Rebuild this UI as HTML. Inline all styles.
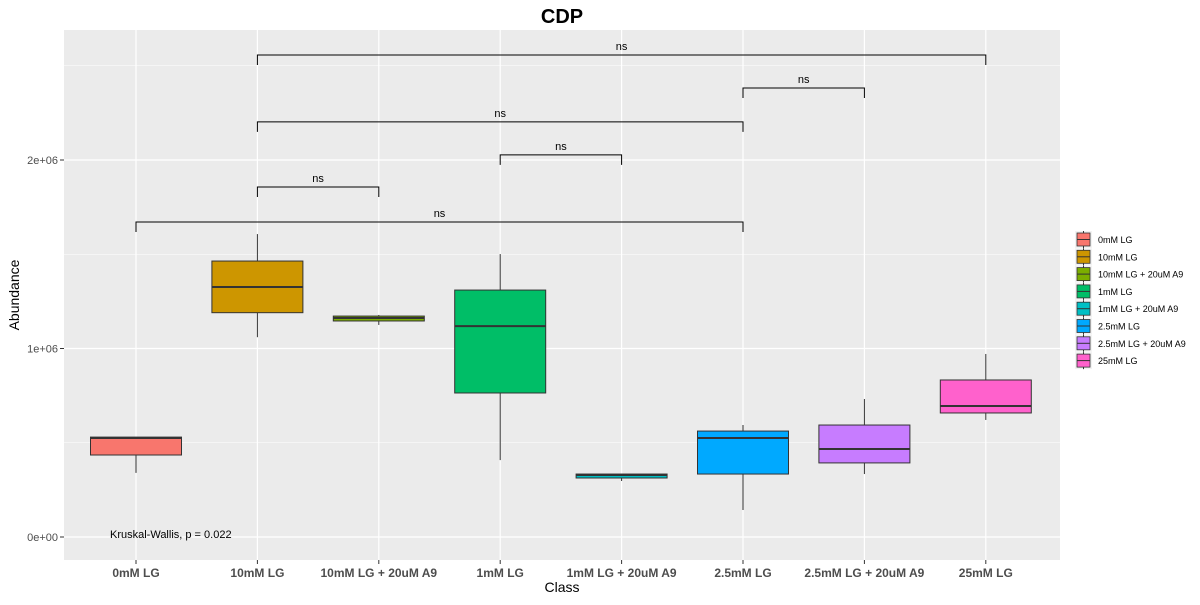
<!DOCTYPE html>
<html><head><meta charset="utf-8"><style>
body{margin:0;background:#fff;font-family:"Liberation Sans",Arial,sans-serif}
svg text{font-family:"Liberation Sans",Arial,sans-serif}
</style></head><body>
<svg id="chart" width="1200" height="600"></svg>
<script>
const categories=["0mM LG","10mM LG","10mM LG + 20uM A9","1mM LG","1mM LG + 20uM A9","2.5mM LG","2.5mM LG + 20uM A9","25mM LG"];
const colors=["#F8766D","#CD9600","#7CAE00","#00BE67","#00BFC4","#00A9FF","#C77CFF","#FF61CC"];
const lowW=[0.34e6,1.06e6,1.125e6,0.408e6,0.297e6,0.143e6,0.334e6,0.621e6];
const q1=[0.435e6,1.19e6,1.146e6,0.764e6,0.313e6,0.334e6,0.393e6,0.658e6];
const med=[0.525e6,1.326e6,1.162e6,1.119e6,0.329e6,0.525e6,0.467e6,0.695e6];
const q3=[0.53e6,1.464e6,1.172e6,1.31e6,0.334e6,0.562e6,0.594e6,0.833e6];
const highW=[0.53e6,1.607e6,1.178e6,1.501e6,0.334e6,0.594e6,0.732e6,0.971e6];
const yTicks=[0,1e6,2e6];
const yTickLabels=["0e+00","1e+06","2e+06"];
const yMinor=[0.5e6,1.5e6,2.5e6];
const brackets=[[0,5,1.671e6],[1,2,1.857e6],[3,4,2.027e6],[1,5,2.202e6],[5,6,2.382e6],[1,7,2.557e6]];
const bracketLabels=["ns","ns","ns","ns","ns","ns"];

const NS="http://www.w3.org/2000/svg";
const svg=document.getElementById('chart');
const L=64,R=1060,T=30,B=560;
const yv=v=>537-v/1e6*188.5;
const xc=i=>136+i*121.4;
function el(tag,attrs,parent){const e=document.createElementNS(NS,tag);for(const k in attrs)e.setAttribute(k,attrs[k]);(parent||svg).appendChild(e);return e;}
function txt(s,attrs){const e=el('text',attrs);e.textContent=s;return e;}

const panel=el('rect',{x:L,y:T,width:R-L,height:B-T,fill:'#EBEBEB'});


yMinor.forEach(v=>{el('line',{x1:L,x2:R,y1:yv(v),y2:yv(v),stroke:'#fff','stroke-width':0.6});});
yTicks.forEach(v=>{el('line',{x1:L,x2:R,y1:yv(v),y2:yv(v),stroke:'#fff','stroke-width':1.2});});
categories.forEach((c,i)=>{el('line',{x1:xc(i),x2:xc(i),y1:T,y2:B,stroke:'#fff','stroke-width':1.2});});

const bw=91;
categories.forEach((c,i)=>{
  const g=el('g',{});
  
  
  const x=xc(i);
  el('line',{x1:x,x2:x,y1:yv(highW[i]),y2:yv(q3[i]),stroke:'#333','stroke-width':1},g);
  el('line',{x1:x,x2:x,y1:yv(q1[i]),y2:yv(lowW[i]),stroke:'#333','stroke-width':1},g);
  el('rect',{x:x-bw/2,y:yv(q3[i]),width:bw,height:Math.max(1,yv(q1[i])-yv(q3[i])),fill:colors[i],stroke:'#333','stroke-width':1},g);
  el('line',{x1:x-bw/2,x2:x+bw/2,y1:yv(med[i]),y2:yv(med[i]),stroke:'#333','stroke-width':2},g);
});

brackets.forEach((b,k)=>{
  const g=el('g',{});
  
  
  const y=yv(b[2]),x1=xc(b[0]),x2=xc(b[1]);
  el('path',{d:`M${x1},${y+10}V${y}H${x2}V${y+10}`,fill:'none',stroke:'#000','stroke-width':1},g);
  const t=el('text',{x:(x1+x2)/2,y:y-5,'text-anchor':'middle','font-size':11,fill:'#000'},g);
  t.textContent=bracketLabels[k];
});

yTicks.forEach((v,i)=>{
  el('line',{x1:L-4,x2:L,y1:yv(v),y2:yv(v),stroke:'#333'});
  const t=txt(yTickLabels[i],{x:L-6,y:yv(v)+4,'text-anchor':'end','font-size':11,fill:'#4D4D4D'});
  
  
});
categories.forEach((c,i)=>{
  el('line',{x1:xc(i),x2:xc(i),y1:B,y2:B+4,stroke:'#333'});
  const t=txt(c,{x:xc(i),y:577,'text-anchor':'middle','font-size':12,'font-weight':'bold',fill:'#4D4D4D'});
  
  
});

let t=txt('CDP',{x:562,y:23,'text-anchor':'middle','font-size':20,'font-weight':'bold',fill:'#000'});

t=txt('Class',{x:562,y:592,'text-anchor':'middle','font-size':14,fill:'#000'});

t=txt('Abundance',{x:19,y:295,'text-anchor':'middle','font-size':14,fill:'#000',transform:'rotate(-90 19 295)'});

t=txt('Kruskal-Wallis, p = 0.022',{x:110,y:538,'font-size':11,fill:'#000'});


categories.forEach((c,i)=>{
  const g=el('g',{});
  
  
  const y=231+i*17.3;
  el('rect',{x:1075,y:y,width:17,height:17,fill:'#F2F2F2'},g);
  el('line',{x1:1083.5,x2:1083.5,y1:y,y2:y+17,stroke:'#333'},g);
  el('rect',{x:1077,y:y+2,width:13,height:13,fill:colors[i],stroke:'#333','stroke-width':0.8},g);
  el('line',{x1:1077,x2:1090,y1:y+8.5,y2:y+8.5,stroke:'#333','stroke-width':1},g);
  const tt=el('text',{x:1098,y:y+12,'font-size':9,fill:'#000'},g);
  tt.textContent=c;
});
</script>
</body></html>
